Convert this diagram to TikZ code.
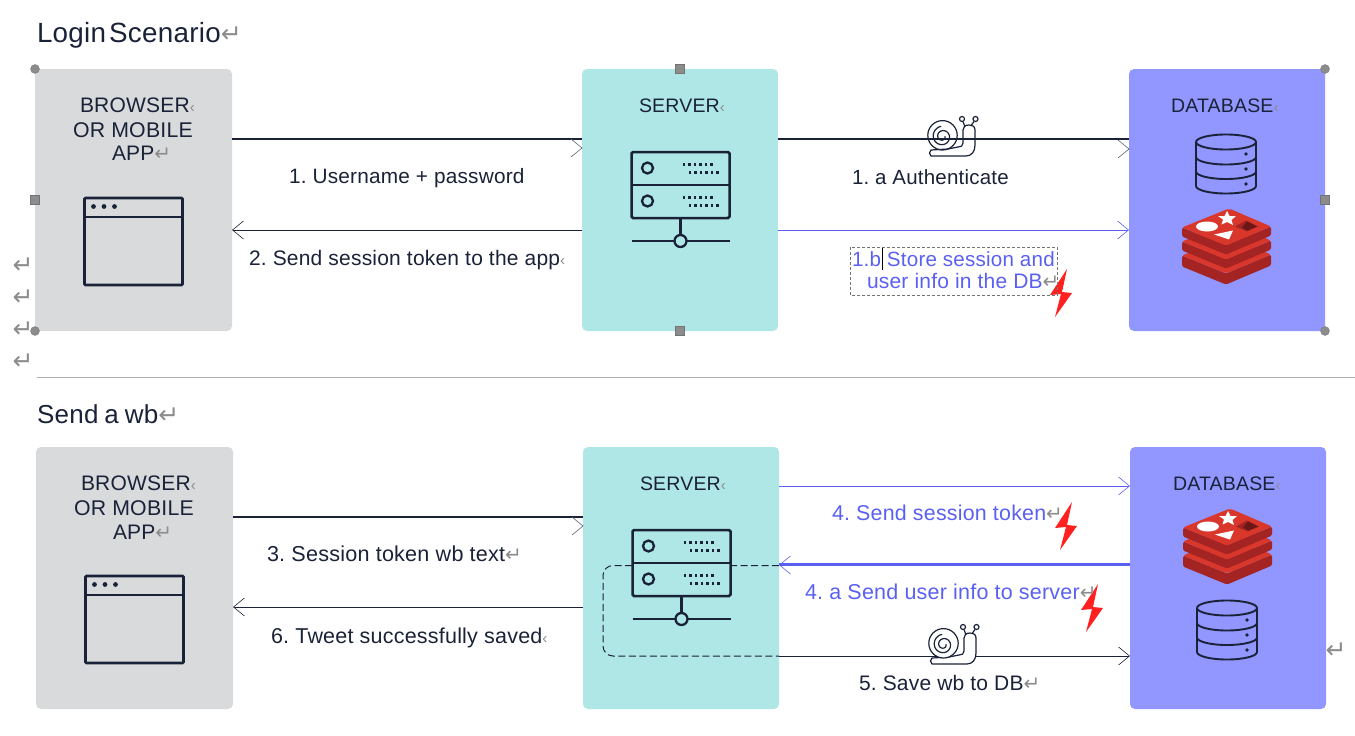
\documentclass[tikz,border=0pt]{standalone}
\usepackage{fontspec}
\setmainfont[LetterSpace=1]{Liberation Sans}
\newfontfamily\retfont{DejaVu Sans}
\usetikzlibrary{arrows.meta}
\frenchspacing
\definecolor{ink}{HTML}{1A2238}
\definecolor{boxgray}{HTML}{D9DADC}
\definecolor{boxteal}{HTML}{AFE7E6}
\definecolor{boxblue}{HTML}{9296FF}
\definecolor{bluetx}{HTML}{5A60F2}
\definecolor{retgray}{HTML}{8C8C8C}
\definecolor{redisA}{HTML}{D9372C}
\definecolor{redisB}{HTML}{A32422}
\definecolor{boltred}{HTML}{FF2020}
\newcommand{\retm}{{\retfont\color{retgray}\fontsize{20}{20}\selectfont ↵}}
\newcommand{\retb}{{\retfont\color{retgray}\fontsize{25}{25}\selectfont ↵}}
\newcommand{\retc}{{\color{retgray}\fontsize{15}{15}\selectfont ‹}}
\newcommand{\fsz}[1]{\fontsize{#1}{24}\selectfont}
\tikzset{
  x=1pt,y=-1pt,
  panel/.style={rectangle,rounded corners=5pt,draw=none,anchor=north west,minimum width=197pt,minimum height=262pt,inner sep=0pt,outer sep=0pt},
  lbl/.style={anchor=base west,inner sep=0pt,outer sep=0pt,text=ink,font=\fontsize{21}{24}\selectfont},
  hdr/.style={lbl,font=\fontsize{19.5}{24}\selectfont},
  ttl/.style={lbl,font=\fontsize{27}{30}\selectfont},
  bluelbl/.style={lbl,text=bluetx},
  ret/.style={anchor=center,inner sep=0pt},
  flow/.style={draw=ink,line width=.7pt,-{Straight Barb[length=11pt,width=18pt,line width=.6pt]}},
  heavy/.style={draw=ink,line width=2pt},
  handlec/.style={circle,fill=retgray,draw=black!55,line width=.3pt,minimum size=9pt,inner sep=0pt},
  handles/.style={rectangle,fill=retgray,draw=black!55,line width=.3pt,minimum size=9pt,inner sep=0pt},
  pics/chev/.style={code={\draw[line width=.6pt,draw=ink!70] (-11,-9) -- (0,0) -- (-11,9);}},
  pics/bolt/.style={code={\fill[boltred] (17,0) -- (0,26) -- (11,25) -- (5,48) -- (22,24) -- (12,23) -- cycle;}},
  pics/winicon/.style={code={
    \draw[ink,line width=2.6pt,rounded corners=1pt] (0,0) rectangle (98,87);
    \draw[ink,line width=2.6pt] (0,19) -- (98,19);
    \foreach \q in {9,19.5,30}{\fill[ink] (\q,8.5) circle (2.4);}
  }},
  pics/srvicon/.style={code={
    \draw[ink,fill=boxteal,line width=2.5pt,rounded corners=1.5pt] (0,0) rectangle (98,66);
    \draw[ink,line width=2.5pt] (0,33) -- (98,33);
    \draw[ink,line width=2.3pt] (16,16) circle (5.5);
    \draw[ink,line width=2.3pt] (16,49) circle (5.5);
    \foreach \r in {0,33}{
      \foreach \q in {51,56.5,62,67.5,73,78.5}{
        \fill[ink] (\q,11+\r) rectangle +(2.8,2.8);
        \fill[ink] (\q+6,19+\r) rectangle +(2.8,2.8);
      }
    }
    \draw[ink,line width=2.5pt] (49,66) -- (49,89);
    \draw[ink,line width=2.5pt] (0,89) -- (98,89);
    \draw[ink,line width=2.3pt,fill=boxteal] (49,89) circle (6);
  }},
  pics/dbicon/.style={code={
    \draw[ink,line width=1.9pt] (0,8) arc[start angle=180,end angle=-180,x radius=30,y radius=7.5];
    \draw[ink,line width=1.9pt] (0,8) -- (0,52) arc[start angle=180,end angle=0,x radius=30,y radius=7.5] -- (60,8);
    \draw[ink,line width=1.9pt] (0,23) arc[start angle=180,end angle=0,x radius=30,y radius=7.5];
    \draw[ink,line width=1.9pt] (0,37.5) arc[start angle=180,end angle=0,x radius=30,y radius=7.5];
    \foreach \q in {20,35,50}{\fill[ink] (50,\q) circle (1.8);}
  }},
  pics/redis/.style={code={
    \foreach \o/\t in {28/11,14/9,0/9}{
      \fill[redisB,rounded corners=1.5pt] (0,19+\o) -- (44,37+\o) -- (89,18+\o) -- (89,18+\o+\t) -- (44,37+\o+\t) -- (0,19+\o+\t) -- cycle;
      \fill[redisA,rounded corners=2pt] (0,19+\o) -- (47,0+\o) -- (89,18+\o) -- (44,37+\o) -- cycle;
    }
    \fill[white] (25,18) ellipse (11 and 5);
    \fill[white] (45,2.5) -- (47.5,7.5) -- (54,7.5) -- (49.5,11.5) -- (51,16.5) -- (45,13.5) -- (39.5,16) -- (41,11) -- (36,7.5) -- (42.5,7.5) -- cycle;
    \fill[white] (32,26) -- (51,22) -- (47,31) -- cycle;
    \fill[redisB] (53,18) -- (64,12) -- (76,18) -- (65,23) -- cycle;
    \fill[redisB!65!black] (60,19) -- (65,13) -- (75,18) -- (65,22) -- cycle;
  }},
  pics/snail/.style={code={
    \draw[ink,fill=#1,line width=1.2pt,line join=round]
      (3,40) -- (38,40) .. controls (44,40) and (47,35) .. (47,29) -- (47,14)
      .. controls (47,10) and (44,9) .. (41,9) .. controls (37,9) and (35,11) .. (35,14)
      -- (35,27) .. controls (35,30) and (33,31) .. (30,31) -- (20,33) -- (3,34) -- (1.5,37) -- cycle;
    \draw[ink,fill=#1,line width=1.2pt] (14.5,19.3) circle (14.7);
    \draw[ink,line width=1.2pt,line cap=round] plot[domain=0:620,samples=50,smooth]
      ({14.5+(2.5+\x/720*9)*cos(\x)},{20.5+(2.5+\x/720*9)*sin(\x)});
    \draw[ink,line width=1.2pt] (37,11) -- (35,5.5) (43,9.5) -- (46,5.5);
    \draw[ink,line width=1.2pt] (34,3) circle (2.5) (47.5,3) circle (2.5);
  }}
}
\begin{document}
\begin{tikzpicture}
\useasboundingbox (0,0) rectangle (1355,736);
% panels
\node[panel,fill=boxgray] (browserA) at (35,69) {};
\node[panel,fill=boxteal,minimum width=196pt] (serverA) at (582,69) {};
\node[panel,fill=boxblue,minimum width=196pt] (dbA) at (1129,69) {};
\node[panel,fill=boxgray] (browserB) at (36,447) {};
\node[panel,fill=boxteal,minimum width=196pt] (serverB) at (583,447) {};
\node[panel,fill=boxblue,minimum width=196pt] (dbB) at (1130,447) {};
% divider
\draw[black!30,line width=.7pt] (37,377) -- (1355,377);
% dashed route behind the server icon
\draw[ink,line width=1pt,dash pattern=on 7pt off 3.5pt,rounded corners=10pt] (serverB.east |- 0,565.5) -- (603,565.5) -- (603,656) -- (serverB.east |- 0,656);
% icons
\pic (winA) at (84.5,198) {winicon};
\pic (winB) at (85.5,576) {winicon};
\pic (srvA) at (631.5,152) {srvicon};
\pic (srvB) at (632.5,530) {srvicon};
\pic (cylA) at (1196,134) {dbicon};
\pic (cylB) at (1197,600) {dbicon};
\pic (redisA) at (1182,208.5) {redis};
\pic (redisB) at (1183,508.5) {redis};
% connectors, upper
\draw[heavy] (browserA.east |- 0,139) -- (serverA.west |- 0,139);
\pic at (serverA.west |- 0,148) {chev};
\draw[flow] (serverA.west |- 0,230) -- (browserA.east |- 0,230);
\draw[heavy] (serverA.east |- 0,139) -- (dbA.west |- 0,139);
\pic at (dbA.west |- 0,149) {chev};
\draw[flow,draw=bluetx] (serverA.east |- 0,230) -- (dbA.west |- 0,230);
% connectors, lower
\draw[heavy] (browserB.east |- 0,517) -- (serverB.west |- 0,517);
\pic at (serverB.west |- 0,526) {chev};
\draw[flow] (serverB.west |- 0,607) -- (browserB.east |- 0,607);
\draw[flow,draw=bluetx] (serverB.east |- 0,486) -- (dbB.west |- 0,486);
\draw[bluetx,line width=1.8pt] (dbB.west |- 0,564) -- (serverB.east |- 0,564);
\draw[flow,draw=bluetx,line width=.5pt] (dbB.west |- 0,565) -- (serverB.east |- 0,565);
\draw[flow] (serverB.east |- 0,656) -- (dbB.west |- 0,656);
% snails, bolts
\pic (snailA) at (928,116) {snail=none};
\pic (snailB) at (929,624) {snail=white};
\pic (boltA) at (1050,269) {bolt};
\pic (boltB) at (1055,502) {bolt};
\pic (boltC) at (1081,584) {bolt};
% selection frame + handles
\draw[black!55,line width=.5pt,densely dashed] (850,247) rectangle (1057,295);
\draw[black,line width=1pt] (882,248) -- (882,270);
\node[handlec] (h1) at (35,69) {};
\node[handlec] (h2) at (35,331) {};
\node[handlec] (h3) at (1325,69) {};
\node[handlec] (h4) at (1325,331) {};
\node[handles] (h5) at (680,69) {};
\node[handles] (h6) at (680,331) {};
\node[handles] (h7) at (35,200) {};
\node[handles] (h8) at (1325,200) {};
% titles
\node[ttl] (t1) at (37,42) {\fsz{27.8}\spaceskip=3pt Login Scenario\retb};
\node[ttl] (t2) at (37,423) {\fsz{26}\spaceskip=6pt Send a wb\retb};
% panel labels
\node[lbl] (b1) at (80,112) {BROWSER\retc};
\node[lbl] (b2) at (73,137) {\fsz{21.3}OR MOBILE};
\node[lbl] (b3) at (112,160) {APP\retm};
\node[lbl] (b4) at (81,490) {BROWSER\retc};
\node[lbl] (b5) at (74,515) {\fsz{21.3}OR MOBILE};
\node[lbl] (b6) at (113,539) {APP\retm};
\node[hdr] (s1) at (639,112) {SERVER\retc};
\node[hdr] (s2) at (640,490) {SERVER\retc};
\node[hdr] (d1) at (1171,112) {DATABASE\retc};
\node[hdr] (d2) at (1173,490) {DATABASE\retc};
% flow labels
\node[lbl] (f1) at (289,183) {\fsz{20.8}1. Username + password};
\node[lbl] (f2) at (249,265) {2. Send session token to the app\retc};
\node[lbl] (f3) at (852,184) {\fsz{20.5}1. a Authenticate};
\node[bluelbl] (f4) at (852,266) {\fsz{20.6}1.b Store session and};
\node[bluelbl] (f5) at (867,288) {user info in the DB\retm};
\node[lbl] (f6) at (267,561) {\fsz{21.6}3. Session token wb text\retm};
\node[lbl] (f7) at (271,643) {\fsz{21.5}6. Tweet successfully saved\retc};
\node[bluelbl] (f8) at (832,520) {\fsz{21.4}4. Send session token\retm};
\node[bluelbl] (f9) at (805,599) {\fsz{21.5}4. a Send user info to server\retm};
\node[lbl] (f10) at (859,690) {5. Save wb to DB\retm};
% stray return marks
\node[ret] (r1) at (23,266) {\retb};
\node[ret] (r2) at (23,298) {\retb};
\node[ret] (r3) at (23,330) {\retb};
\node[ret] (r4) at (23,362) {\retb};
\node[ret] (r5) at (1336,651) {\retb};
\end{tikzpicture}
\end{document}
